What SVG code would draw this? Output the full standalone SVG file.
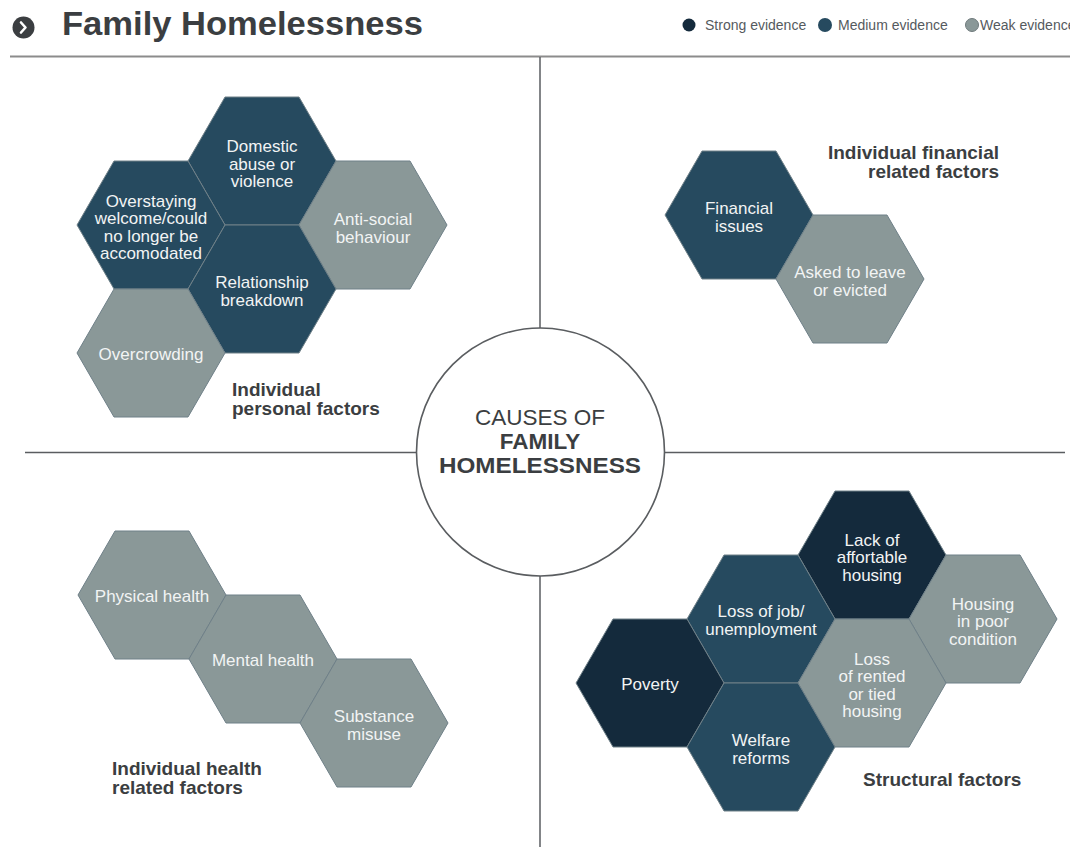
<svg xmlns="http://www.w3.org/2000/svg" xmlns:xlink="http://www.w3.org/1999/xlink" width="1070" height="847" viewBox="0 0 1070 847">
<style>
.strong{fill:#142a3c}
.medium{fill:#264a5f}
.weak{fill:#8a9898}
.hx{stroke:#6f8088;stroke-width:1}
.ht{font-family:"Liberation Sans",Arial,sans-serif;font-size:17px;fill:#f2f4f4;text-anchor:middle}
.lbl{font-family:"Liberation Sans",Arial,sans-serif;font-size:19px;font-weight:bold;fill:#3b3e41}
.leg{font-family:"Liberation Sans",Arial,sans-serif;font-size:14px;fill:#555a5e}
.ln{stroke:#5a5d60;stroke-width:1.5;fill:none}
</style>
<defs>
<polygon id="hex" points="-74,0 -37,-64 37,-64 74,0 37,64 -37,64"/>
</defs>
<rect width="1070" height="847" fill="#ffffff"/>

<g id="header">
<circle cx="23.5" cy="27.5" r="11" fill="#3b3e41"/>
<polyline points="21,22.5 25.5,27.5 21,32.5" fill="none" stroke="#ffffff" stroke-width="2.6" stroke-linecap="round" stroke-linejoin="round"/>
<text x="62" y="35" font-family="'Liberation Sans',Arial,sans-serif" font-size="33" font-weight="bold" fill="#3b3e41" textLength="361" lengthAdjust="spacingAndGlyphs">Family Homelessness</text>
<line x1="10" y1="56.5" x2="1070" y2="56.5" stroke="#8c8c8c" stroke-width="2"/>
</g>

<g id="legend">
<circle cx="689" cy="25" r="6.5" class="strong"/>
<text x="705" y="30" class="leg">Strong evidence</text>
<circle cx="825" cy="25" r="7" class="medium"/>
<text x="838" y="30" class="leg">Medium evidence</text>
<circle cx="972" cy="25" r="6.5" class="weak" stroke="#6f7a7c" stroke-width="1"/>
<text x="980" y="30" class="leg">Weak evidence</text>
</g>

<g id="connectors">
<line class="ln" x1="540" y1="57" x2="540" y2="328"/>
<line class="ln" x1="540" y1="576" x2="540" y2="847"/>
<line class="ln" x1="25" y1="452.5" x2="416" y2="452.5"/>
<line class="ln" x1="665" y1="452.5" x2="1065" y2="452.5"/>
</g>

<g id="center">
<circle cx="540.5" cy="452" r="124" fill="#ffffff" stroke="#5a5d60" stroke-width="1.6"/>
<text x="540" y="425" text-anchor="middle" font-family="'Liberation Sans',Arial,sans-serif" font-size="22.5" fill="#3b3e41">CAUSES OF</text>
<text x="540" y="449" text-anchor="middle" font-family="'Liberation Sans',Arial,sans-serif" font-size="22.5" font-weight="bold" fill="#3b3e41">FAMILY</text>
<text x="540" y="473" text-anchor="middle" font-family="'Liberation Sans',Arial,sans-serif" font-size="22.5" font-weight="bold" fill="#3b3e41" textLength="202" lengthAdjust="spacingAndGlyphs">HOMELESSNESS</text>
</g>

<!-- Individual personal factors -->
<g id="domestic"><use href="#hex" x="262" y="161" class="medium hx"/>
<text class="ht"><tspan x="262" y="152">Domestic</tspan><tspan x="262" y="169.5">abuse or</tspan><tspan x="262" y="187">violence</tspan></text></g>
<g id="overstaying"><use href="#hex" x="151" y="225" class="medium hx"/>
<text class="ht"><tspan x="151" y="206.7">Overstaying</tspan><tspan x="151" y="224.2">welcome/could</tspan><tspan x="151" y="241.7">no longer be</tspan><tspan x="151" y="259.2">accomodated</tspan></text></g>
<g id="antisocial"><use href="#hex" x="373" y="225" class="weak hx"/>
<text class="ht"><tspan x="373" y="225">Anti-social</tspan><tspan x="373" y="242.5">behaviour</tspan></text></g>
<g id="relationship"><use href="#hex" x="262" y="289" class="medium hx"/>
<text class="ht"><tspan x="262" y="288">Relationship</tspan><tspan x="262" y="305.5">breakdown</tspan></text></g>
<g id="overcrowding"><use href="#hex" x="151" y="353" class="weak hx"/>
<text class="ht" x="151" y="360">Overcrowding</text></g>
<g id="label-personal"><text class="lbl"><tspan x="232" y="396">Individual</tspan><tspan x="232" y="415">personal factors</tspan></text></g>

<!-- Individual financial related factors -->
<g id="financial"><use href="#hex" x="739" y="215" class="medium hx"/>
<text class="ht"><tspan x="739" y="214">Financial</tspan><tspan x="739" y="231.5">issues</tspan></text></g>
<g id="asked"><use href="#hex" x="850" y="279" class="weak hx"/>
<text class="ht"><tspan x="850" y="278">Asked to leave</tspan><tspan x="850" y="295.5">or evicted</tspan></text></g>
<g id="label-financial"><text class="lbl" text-anchor="end"><tspan x="999" y="159">Individual financial</tspan><tspan x="999" y="178">related factors</tspan></text></g>

<!-- Individual health related factors -->
<g id="physical"><use href="#hex" x="152" y="595" class="weak hx"/>
<text class="ht" x="152" y="602">Physical health</text></g>
<g id="mental"><use href="#hex" x="263" y="659" class="weak hx"/>
<text class="ht" x="263" y="666">Mental health</text></g>
<g id="substance"><use href="#hex" x="374" y="723" class="weak hx"/>
<text class="ht"><tspan x="374" y="722">Substance</tspan><tspan x="374" y="739.5">misuse</tspan></text></g>
<g id="label-health"><text class="lbl"><tspan x="112" y="775">Individual health</tspan><tspan x="112" y="794">related factors</tspan></text></g>

<!-- Structural factors -->
<g id="lack"><use href="#hex" x="872" y="555" class="strong hx"/>
<text class="ht"><tspan x="872" y="545.5">Lack of</tspan><tspan x="872" y="563">affortable</tspan><tspan x="872" y="580.5">housing</tspan></text></g>
<g id="housingpoor"><use href="#hex" x="983" y="619" class="weak hx"/>
<text class="ht"><tspan x="983" y="609.5">Housing</tspan><tspan x="983" y="627">in poor</tspan><tspan x="983" y="644.5">condition</tspan></text></g>
<g id="lossjob"><use href="#hex" x="761" y="619" class="medium hx"/>
<text class="ht"><tspan x="761" y="617">Loss of job/</tspan><tspan x="761" y="634.5">unemployment</tspan></text></g>
<g id="poverty"><use href="#hex" x="650" y="683" class="strong hx"/>
<text class="ht" x="650" y="690">Poverty</text></g>
<g id="lossrented"><use href="#hex" x="872" y="683" class="weak hx"/>
<text class="ht"><tspan x="872" y="664.7">Loss</tspan><tspan x="872" y="682.2">of rented</tspan><tspan x="872" y="699.7">or tied</tspan><tspan x="872" y="717.2">housing</tspan></text></g>
<g id="welfare"><use href="#hex" x="761" y="747" class="medium hx"/>
<text class="ht"><tspan x="761" y="746">Welfare</tspan><tspan x="761" y="763.5">reforms</tspan></text></g>
<g id="label-structural"><text class="lbl" x="863" y="786">Structural factors</text></g>
</svg>
